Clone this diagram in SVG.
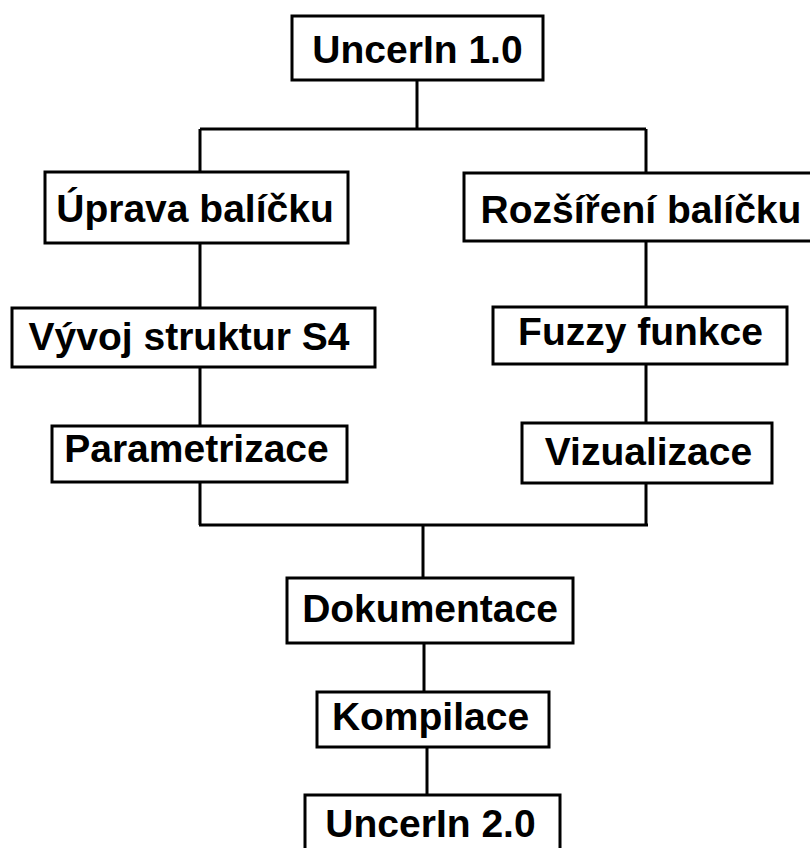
<svg xmlns="http://www.w3.org/2000/svg" width="810" height="848" viewBox="0 0 810 848">
<style>
.box{fill:#fff;stroke:#000;stroke-width:3}
.lbl{font-family:"Liberation Sans",Arial,sans-serif;font-weight:bold;font-size:39px;fill:#000;text-anchor:middle}
.ln{fill:none;stroke:#000;stroke-width:3}
</style>
<rect width="810" height="848" fill="#fff"/>
<g id="connectors">
<path class="ln" d="M417,80V129M200,129H646M200,129V172M646,129V173"/>
<path class="ln" d="M200,243V308M200,367V426M200,482V525"/>
<path class="ln" d="M646,242V307M646,364V423M646,483V525"/>
<path class="ln" d="M199,525H648M423,525V578M424,643V692M427,747V795"/>
</g>
<g id="n1"><rect class="box" x="292" y="16" width="251" height="64"/><text class="lbl" x="417.5" y="63">UncerIn 1.0</text></g>
<g id="n2"><rect class="box" x="45" y="172" width="303" height="71"/><text class="lbl" x="195" y="222">Úprava balíčku</text></g>
<g id="n3"><rect class="box" x="12" y="308" width="363" height="59"/><text class="lbl" x="189" y="350">Vývoj struktur S4</text></g>
<g id="n4"><rect class="box" x="52" y="426" width="295" height="56"/><text class="lbl" x="196.5" y="462">Parametrizace</text></g>
<g id="n5"><rect class="box" x="464" y="173" width="360" height="68"/><text class="lbl" x="641" y="223">Rozšíření balíčku</text></g>
<g id="n6"><rect class="box" x="493" y="307" width="294" height="57"/><text class="lbl" x="640.5" y="345">Fuzzy funkce</text></g>
<g id="n7"><rect class="box" x="522" y="423" width="250" height="60"/><text class="lbl" x="648.5" y="465">Vizualizace</text></g>
<g id="n8"><rect class="box" x="287" y="578" width="286" height="65"/><text class="lbl" x="430" y="622">Dokumentace</text></g>
<g id="n9"><rect class="box" x="317" y="692" width="232" height="55"/><text class="lbl" x="430.5" y="730">Kompilace</text></g>
<g id="n10"><rect class="box" x="305" y="795" width="255" height="70"/><text class="lbl" x="430.5" y="837">UncerIn 2.0</text></g>
</svg>
